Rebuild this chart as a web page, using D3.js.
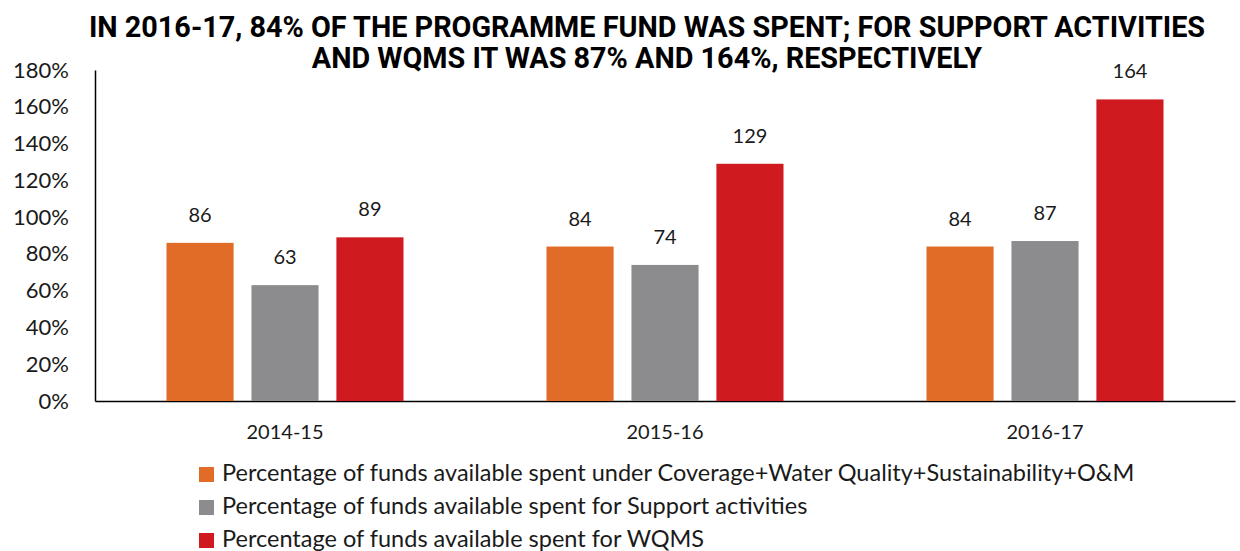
<!DOCTYPE html>
<html lang="en">
<head>
<meta charset="UTF-8">
<title>Programme fund spending</title>
<script src="https://d3js.org/d3.v7.min.js"></script>
<style>
    body { margin: 0; background: #fff; }
    .title { font-family: "Liberation Sans Narrow", "Roboto", sans-serif; font-weight: 700; font-size: 28.8px; fill: #000; }
    .lbl { font-family: "Lato", "Noto Sans", sans-serif; font-size: 20px; fill: #1a1a1a; }
    .leg { font-family: "Lato", "Noto Sans", sans-serif; font-size: 23.5px; fill: #1a1a1a; }
    .axis text { font-family: "Lato", "Noto Sans", sans-serif; font-size: 20px; fill: #1a1a1a; }
    .yaxis text { font-size: 22px; }
</style>
</head>
<body>
<svg id="chart" width="1240" height="551"></svg>
<script>
// data
const years = ["2014-15", "2015-16", "2016-17"];
const seriesNames = [
    "Percentage of funds available spent under Coverage+Water Quality+Sustainability+O&M",
    "Percentage of funds available spent for Support activities",
    "Percentage of funds available spent for WQMS"
];
const coverage = [86, 84, 84];
const support = [63, 74, 87];
const wqms = [89, 129, 164];
const yTicks = [0, 20, 40, 60, 80, 100, 120, 140, 160, 180];
const colors = ["#E06C28", "#8C8C8E", "#CF1A1F"];

const svg = d3.select("#chart");
const plotLeft = 95, plotRight = 1235, plotTop = 70, plotBottom = 401;

const x0 = d3.scaleBand().domain(years).range([plotLeft, plotRight]);
const x1 = d3.scaleBand().domain([0, 1, 2]).range([0, 237]).paddingInner(0.21);
const y = d3.scaleLinear().domain([0, 180]).range([plotBottom, plotTop]);

// title
svg.append("text").attr("class", "title").attr("x", 647).attr("y", 37)
    .attr("text-anchor", "middle").text("IN 2016-17, 84% OF THE PROGRAMME FUND WAS SPENT; FOR SUPPORT ACTIVITIES");
svg.append("text").attr("class", "title").attr("x", 647).attr("y", 68)
    .attr("text-anchor", "middle").text("AND WQMS IT WAS 87% AND 164%, RESPECTIVELY");

// y axis
const yAxis = svg.append("g").attr("class", "axis yaxis")
    .attr("transform", `translate(${plotLeft},0)`)
    .call(d3.axisLeft(y).tickValues(yTicks).tickSize(0).tickPadding(26).tickFormat(d => d + "%"));
yAxis.select(".domain").attr("stroke", "#000").attr("stroke-width", 1.5);

// x axis
const xAxis = svg.append("g").attr("class", "axis")
    .attr("transform", `translate(0,${plotBottom})`)
    .call(d3.axisBottom(x0).tickSize(0).tickPadding(24));
xAxis.select(".domain").attr("stroke", "#000").attr("stroke-width", 1.5);

// bars
const rows = years.map((yr, i) => ({ yr, vals: [coverage[i], support[i], wqms[i]] }));
const groups = svg.append("g").selectAll("g").data(rows).enter().append("g")
    .attr("transform", d => `translate(${x0(d.yr) + x0.bandwidth() / 2 - 118.5},0)`);

groups.selectAll("rect").data(d => d.vals.map((v, k) => ({ v, k }))).enter().append("rect")
    .attr("x", d => x1(d.k))
    .attr("width", x1.bandwidth())
    .attr("y", d => y(d.v))
    .attr("height", d => y(0) - y(d.v))
    .attr("fill", d => colors[d.k]);

groups.selectAll("text").data(d => d.vals.map((v, k) => ({ v, k }))).enter().append("text")
    .attr("class", "lbl")
    .attr("x", d => x1(d.k) + x1.bandwidth() / 2)
    .attr("y", d => y(d.v) - 21)
    .attr("text-anchor", "middle")
    .text(d => d.v);

// legend
const legend = svg.append("g").attr("transform", "translate(199,467)");
seriesNames.forEach((name, i) => {
    const row = legend.append("g").attr("transform", `translate(0,${i * 33})`);
    row.append("rect").attr("width", 15).attr("height", 15).attr("fill", colors[i]);
    row.append("text").attr("class", "leg").attr("x", 23).attr("y", 14).text(name);
});
</script>
</body>
</html>
